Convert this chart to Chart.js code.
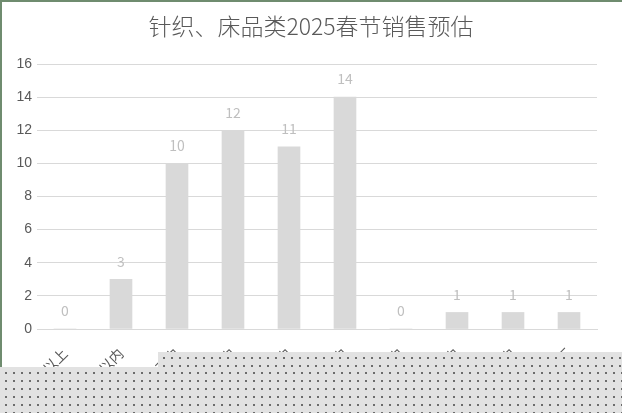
<!DOCTYPE html>
<html>
<head>
<meta charset="utf-8">
<script src="https://cdn.jsdelivr.net/npm/chart.js@4"></script>
<style>
  body { margin: 0; background: #fff; }
  #wrap { position: relative; width: 622px; height: 413px; }
  #frame { position: absolute; left: 0; top: 0; width: 620px; height: 411px;
    border-left: 2px solid #6f8c6f; border-top: 2px solid #6f8c6f; pointer-events: none; }
  .mask { position: absolute; background-color: #e2e2e2;
    background-image: radial-gradient(circle, #6a6a6a 0.7px, transparent 1.1px);
    background-size: 8px 8px; background-position: 2px 2px; }
</style>
</head>
<body>
<div id="wrap">
  <canvas id="myChart" width="622" height="413"></canvas>
  <div id="frame"></div>
  <div class="mask" style="left:0;top:367px;width:622px;height:46px"></div>
  <div class="mask" style="left:158px;top:352px;width:464px;height:15px"></div>
</div>
<script>
const chartTitle = "针织、床品类2025春节销售预估";
const categories = ["300元以上", "300元以内", "200元内", "150元内", "100元内",
  "80元内", "60元内", "50元内", "30元内", "10元以下"];
const sales = [0, 3, 10, 12, 11, 14, 0, 1, 1, 1];
const yTicks = [0, 2, 4, 6, 8, 10, 12, 14, 16];

// value above each bar + title centred on the whole canvas
const extras = {
  id: "extras",
  afterDatasetsDraw(chart) {
    const ctx = chart.ctx;
    const meta = chart.getDatasetMeta(0);
    ctx.save();
    ctx.font = "14px 'Noto Sans CJK SC', sans-serif";
    ctx.fillStyle = "#bfbfbf";
    ctx.textAlign = "center";
    ctx.textBaseline = "middle";
    meta.data.forEach((bar, i) => {
      ctx.fillText(sales[i], bar.x, bar.y - 18);
    });
    ctx.font = "300 23px 'Noto Sans CJK SC', sans-serif";
    ctx.fillStyle = "#595959";
    ctx.fillText(chartTitle, chart.width / 2, 26);
    ctx.restore();
  }
};

new Chart("myChart", {
  type: "bar",
  data: {
    labels: categories,
    datasets: [{
      data: sales,
      backgroundColor: "#d9d9d9",
      barThickness: 22
    }]
  },
  options: {
    responsive: false,
    animation: false,
    layout: { padding: { left: 0, right: 25, top: 64, bottom: 0 } },
    plugins: {
      legend: { display: false },
      tooltip: { enabled: false },
      title: { display: false }
    },
    scales: {
      x: {
        grid: { display: false },
        border: { color: "#d9d9d9" },
        ticks: {
          color: "#595959",
          font: { size: 14, family: "'Noto Sans CJK SC', sans-serif" },
          maxRotation: 45,
          minRotation: 45,
          padding: 8
        },
        afterFit(scale) { scale.height = 84; }
      },
      y: {
        min: 0,
        max: 16,
        afterBuildTicks(scale) { scale.ticks = yTicks.map(v => ({ value: v })); },
        grid: { color: "#d9d9d9", drawTicks: false },
        border: { display: false },
        ticks: {
          color: "#595959",
          font: { size: 14, family: "'Liberation Sans', sans-serif" },
          padding: 5
        },
        afterFit(scale) { scale.width = 37; }
      }
    }
  },
  plugins: [extras]
});
</script>
</body>
</html>
